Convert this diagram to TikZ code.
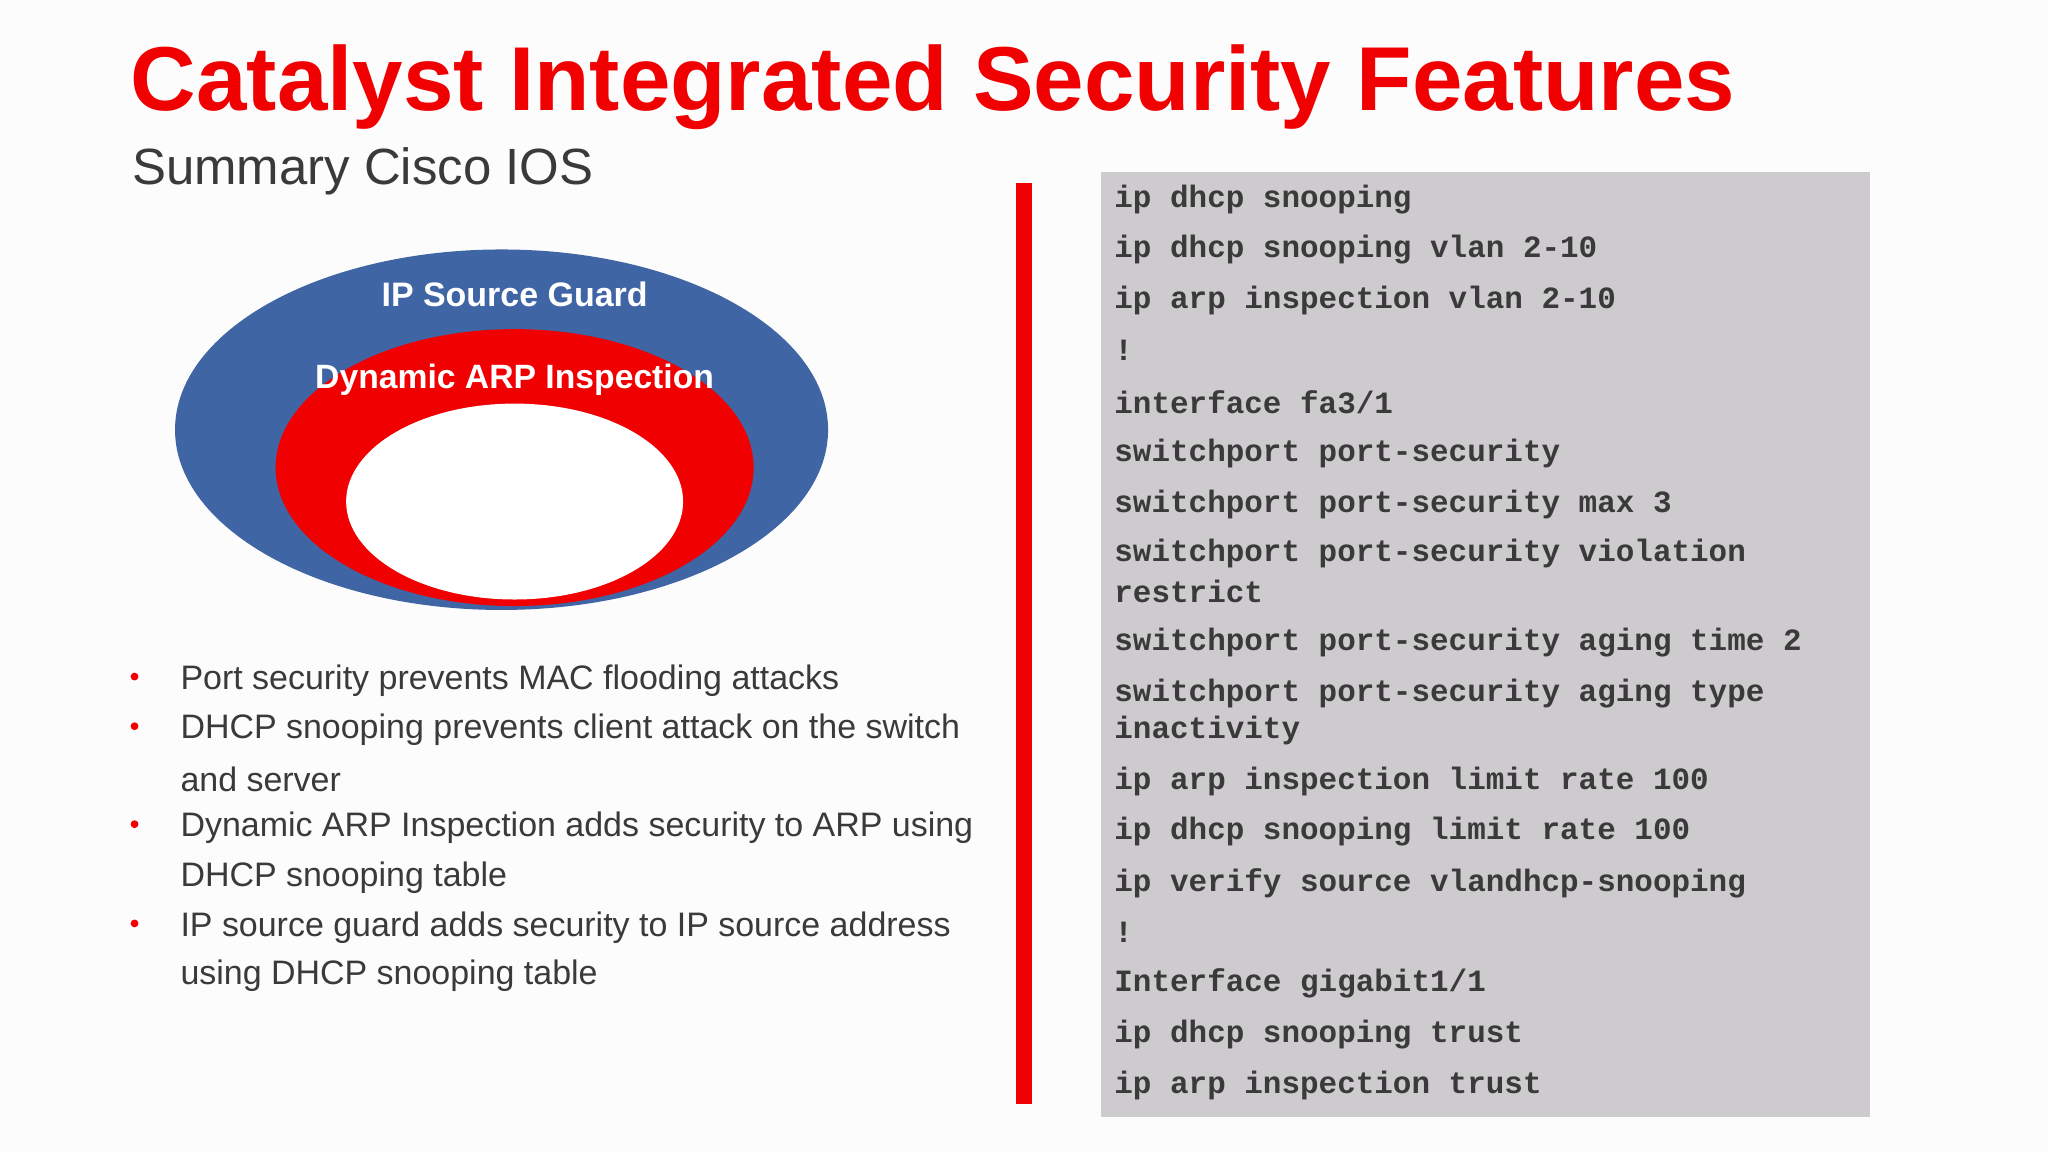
\documentclass[tikz,border=0pt]{standalone}
\usepackage{fontspec}
\setmainfont{Liberation Sans}
\newfontfamily\codefont{Liberation Mono}
\definecolor{ciscored}{HTML}{F00000}
\definecolor{ciscoblue}{HTML}{3F65A4}
\definecolor{codegray}{HTML}{CDCBCD}
\definecolor{txt}{HTML}{3A3A3A}
\begin{document}
\begin{tikzpicture}[x=1pt,y=-1pt,
  code/.style={anchor=west,inner sep=0pt,font=\codefont\bfseries\fontsize{23.7}{26}\selectfont,text=txt,yshift=-2pt},
  bul/.style={anchor=west,inner sep=0pt,font=\fontsize{26}{30}\selectfont,text=txt,yshift=-3pt},
  dot/.style={circle,fill=ciscored,inner sep=0pt,minimum size=6pt},
  lab/.style={font=\bfseries\fontsize{26}{30}\selectfont,text=white,inner sep=0pt}]
\useasboundingbox (0,0) rectangle (1568,882);
\fill[white!98!gray] (0,0) rectangle (1568,882);
\node[anchor=west,inner sep=0pt,text=ciscored,font=\bfseries\fontsize{69.5}{80}\selectfont] (title) at (100,67) {Catalyst Integrated Security Features};
\node[anchor=west,inner sep=0pt,text=txt,font=\fontsize{39}{44}\selectfont] (sub) at (101,131) {Summary Cisco IOS};
% ellipses
\fill[ciscoblue] (384,329) ellipse [x radius=250,y radius=138];
\fill[ciscored] (394,358) ellipse [x radius=183,y radius=106];
\fill[white] (394,384) ellipse [x radius=129,y radius=75];
\node[lab] (isg) at (394,225) {IP Source Guard};
\node[lab,font=\bfseries\fontsize{25.8}{30}\selectfont] (dai) at (394,291) {Dynamic ARP Inspection};
% bullets
\foreach \y in {518,556,631,707} \node[dot] at (103,\y) {};
\node[bul] at (138,518) {Port security prevents MAC flooding attacks};
\node[bul] at (138,556) {DHCP snooping prevents client attack on the switch};
\node[bul] at (138,594) {and server};
\node[bul] at (138,631) {Dynamic ARP Inspection adds security to ARP using};
\node[bul] at (138,669) {DHCP snooping table};
\node[bul] at (138,707) {IP source guard adds security to IP source address};
\node[bul] at (138,744) {using DHCP snooping table};
% bar
\fill[ciscored] (778,140) rectangle (790,845);
% code box
\fill[codegray] (843,132) rectangle (1432,855);
\node[code] at (853,151) {ip dhcp snooping};
\node[code] at (853,189) {ip dhcp snooping vlan 2-10};
\node[code] at (853,228) {ip arp inspection vlan 2-10};
\node[code] at (853,266) {!};
\node[code] at (853,306) {interface fa3/1};
\node[code] at (853,345) {switchport port-security};
\node[code] at (853,384) {switchport port-security max 3};
\node[code] at (853,422) {switchport port-security violation};
\node[code] at (853,451) {restrict};
\node[code] at (853,490) {switchport port-security aging time 2};
\node[code] at (853,529) {switchport port-security aging type};
\node[code] at (853,557) {inactivity};
\node[code] at (853,596) {ip arp inspection limit rate 100};
\node[code] at (853,635) {ip dhcp snooping limit rate 100};
\node[code] at (853,674) {ip verify source vlandhcp-snooping};
\node[code] at (853,712) {!};
\node[code] at (853,751) {Interface gigabit1/1};
\node[code] at (853,790) {ip dhcp snooping trust};
\node[code] at (853,829) {ip arp inspection trust};
\end{tikzpicture}
\end{document}
